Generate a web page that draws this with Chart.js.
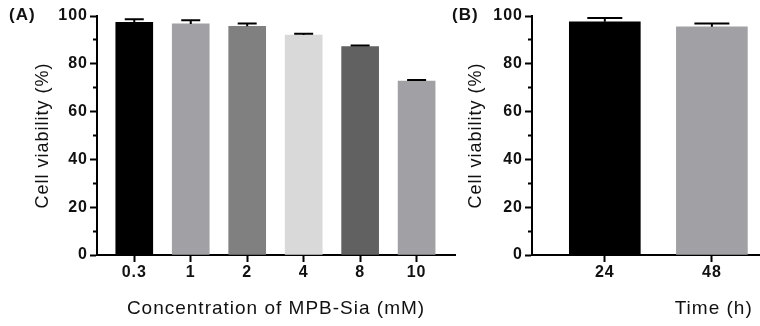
<!DOCTYPE html>
<html>
<head>
<meta charset="utf-8">
<script src="https://cdn.jsdelivr.net/npm/chart.js@4.4.1/dist/chart.umd.min.js"></script>
<style>
  html, body { margin: 0; padding: 0; background: #fff; }
  #wrap { position: relative; width: 760px; height: 326px; overflow: hidden; }
  canvas { position: absolute; top: 0; }
  #chartA { left: 0; }
  #chartB { left: 440px; }
  .tag {
    position: absolute; top: 6px;
    font: bold 17px "Liberation Sans", Arial, sans-serif;
    line-height: 17px; letter-spacing: 1px; color: #111;
  }
</style>
</head>
<body>
<div id="wrap">
  <canvas id="chartA" width="460" height="326"></canvas>
  <canvas id="chartB" width="320" height="326"></canvas>
  <div class="tag" style="left:9px">(A)</div>
  <div class="tag" style="left:452px">(B)</div>
</div>
<script>
// (A) viability vs. MPB-Sia concentration
const concLabels = ['0.3', '1', '2', '4', '8', '10'];
const viabilityA = [97.4, 96.7, 95.7, 92.0, 87.2, 72.8];
const sdA = [1.2, 1.5, 1.2, 0.6, 0.5, 0.4];
const colorsA = ['#000000', '#a1a1a5', '#808080', '#d9d9d9', '#616161', '#a1a1a5'];

// (B) viability vs. incubation time
const timeLabels = ['24', '48'];
const viabilityB = [97.6, 95.5];
const sdB = [1.6, 1.4];
const colorsB = ['#000000', '#a1a1a5'];

const FONT = '"Liberation Sans", Arial, sans-serif';

// all canvas text gets the same slight tracking
const tracking = {
  id: 'tracking',
  beforeUpdate(chart) { chart.ctx.letterSpacing = '1px'; },
  beforeDraw(chart) { chart.ctx.letterSpacing = '1px'; }
};

// upper error bars (mean + SD) with a cap
const errorBars = {
  id: 'errorBars',
  afterDatasetsDraw(chart, args, opts) {
    const { ctx, scales: { y } } = chart;
    const ds = chart.data.datasets[0];
    const meta = chart.getDatasetMeta(0);
    ctx.save();
    ctx.strokeStyle = '#000';
    ctx.lineWidth = 2;
    meta.data.forEach((bar, i) => {
      const top = y.getPixelForValue(ds.data[i].y + ds.sd[i]);
      ctx.beginPath();
      ctx.moveTo(bar.x, bar.y);
      ctx.lineTo(bar.x, top);
      ctx.moveTo(bar.x - opts.cap / 2, top);
      ctx.lineTo(bar.x + opts.cap / 2, top);
      ctx.stroke();
    });
    ctx.restore();
  }
};

function makePanel(id, cfg) {
  return new Chart(document.getElementById(id), {
    type: 'bar',
    data: {
      datasets: [{
        data: cfg.values.map((v, i) => ({ x: i, y: v })),
        sd: cfg.sd,
        backgroundColor: cfg.colors,
        borderWidth: 0,
        barThickness: cfg.barWidth
      }]
    },
    options: {
      responsive: false,
      animation: false,
      layout: { padding: { left: 0, right: cfg.padRight, top: 16, bottom: 0 } },
      plugins: {
        legend: { display: false },
        tooltip: { enabled: false },
        errorBars: { cap: cfg.cap }
      },
      scales: {
        x: {
          type: 'linear',
          offset: false,
          min: cfg.xMin,
          max: cfg.xMax,
          afterBuildTicks: s => { s.ticks = cfg.labels.map((_, i) => ({ value: i })); },
          afterFit: s => { s.height = 71; },
          border: { color: '#000', width: 2 },
          grid: { offset: false, drawOnChartArea: false, tickLength: 7, tickColor: '#000', tickWidth: 2 },
          ticks: {
            color: '#111', padding: 1, autoSkip: false, maxRotation: 0,
            font: { family: FONT, size: 16, weight: 'bold' },
            callback: v => cfg.labels[v]
          },
          title: {
            display: true, text: cfg.xTitle, align: cfg.xAlign, color: '#111',
            font: { family: FONT, size: 19 },
            padding: { top: 0, bottom: 6 }
          }
        },
        y: {
          min: 0,
          max: 100,
          afterFit: s => { s.width = cfg.axisLeft; },
          border: { color: '#000', width: 2 },
          grid: {
            drawOnChartArea: false, tickLength: 7, tickColor: '#000', tickWidth: 2,
            // minor ticks (odd tens) are short, sitting against the axis
            tickBorderDash: c => (c.tick && c.tick.value % 20 !== 0) ? [0, 3, 4, 20] : []
          },
          ticks: {
            stepSize: 10, autoSkip: false, color: '#111', padding: 2,
            font: { family: FONT, size: 16, weight: 'bold' },
            callback: v => (v % 20 === 0 ? v : '')
          },
          title: {
            display: true, text: 'Cell viability (%)', color: '#111',
            font: { family: FONT, size: 18 },
            padding: { top: cfg.yTitlePad, bottom: 0 }
          }
        }
      }
    },
    plugins: [tracking, errorBars]
  });
}

makePanel('chartA', {
  labels: concLabels, values: viabilityA, sd: sdA, colors: colorsA,
  xMin: -0.66, xMax: 5.68, barWidth: 37, cap: 19,
  axisLeft: 97, padRight: 5, yTitlePad: 32,
  xTitle: 'Concentration of MPB-Sia (mM)', xAlign: 'center'
});

makePanel('chartB', {
  labels: timeLabels, values: viabilityB, sd: sdB, colors: colorsB,
  xMin: -0.68, xMax: 1.44, barWidth: 71, cap: 35,
  axisLeft: 92, padRight: 1, yTitlePad: 25,
  xTitle: 'Time (h) ', xAlign: 'end'
});
</script>
</body>
</html>
